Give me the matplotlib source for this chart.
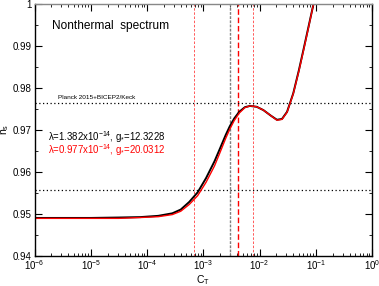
import numpy as np
import matplotlib.pyplot as plt
from matplotlib.ticker import LogLocator, MultipleLocator, NullFormatter

plt.rcParams['font.family'] = ['Liberation Sans', 'DejaVu Sans']

# log10(C_T) and n_s
logct_black = [-6.0, -5.0, -4.5, -4.12, -3.8, -3.55, -3.4, -3.25, -3.1, -2.95, -2.8,
               -2.72, -2.6, -2.53, -2.45, -2.36, -2.26, -2.17, -2.05, -1.93, -1.8,
               -1.69, -1.6, -1.51, -1.4, -1.3, -1.22, -1.13, -1.04]
ns_black = [0.9490, 0.9490, 0.9491, 0.9492, 0.9495, 0.9501, 0.9510, 0.9528, 0.9551,
            0.9585, 0.9625, 0.9650, 0.9688, 0.9708, 0.9727, 0.9743, 0.9754, 0.9757,
            0.9755, 0.9747, 0.9734, 0.9724, 0.9726, 0.9743, 0.9787, 0.9842, 0.9890,
            0.9945, 1.0]

logct_red = [-6.0, -5.0, -4.5, -4.12, -3.8, -3.55, -3.4, -3.25, -3.1, -2.95, -2.8,
             -2.72, -2.6, -2.53, -2.45, -2.36, -2.26, -2.17, -2.05, -1.93, -1.8,
             -1.69, -1.6, -1.51, -1.4, -1.3, -1.22, -1.13, -1.04]
ns_red = [0.9489, 0.9489, 0.9489, 0.9491, 0.9493, 0.9498, 0.9506, 0.9522, 0.9543,
          0.9575, 0.9614, 0.9640, 0.9680, 0.9701, 0.9722, 0.9740, 0.9753, 0.9757,
          0.9755, 0.9747, 0.9734, 0.9723, 0.9725, 0.9742, 0.9786, 0.9840, 0.9888,
          0.9943, 1.0]

planck_band = [0.9556, 0.9764]
vlines_red_thin = [6.8e-4, 7.8e-3]
vline_gray = 2.95e-3
vline_red = 4.2e-3

fig = plt.figure(figsize=(3.79, 2.86), dpi=100)
ax = fig.add_axes([34.5 / 379, 30.3 / 286, 337.5 / 379, 251.7 / 286])

for v in vlines_red_thin:
    ax.axvline(v, color='#ff4040', ls=(0, (3, 2)), lw=0.6)
ax.axvline(vline_gray, color='gray', ls=(0, (2, 1)), lw=1.0)
ax.axvline(vline_red, color='red', ls=(0, (4, 2)), lw=1.0)
for h in planck_band:
    ax.axhline(h, color='black', ls=(0, (1, 2)), lw=0.9)

ax.plot(10 ** np.array(logct_black), ns_black, color='black', lw=1.4)
ax.plot(10 ** np.array(logct_red), ns_red, color='red', lw=1.0)

ax.set_xscale('log')
ax.set_xlim(1e-6, 1)
ax.set_ylim(0.94, 1.0)
ax.xaxis.set_major_locator(LogLocator(base=10, numticks=10))
ax.xaxis.set_minor_locator(LogLocator(base=10, subs=np.arange(2, 10), numticks=10))
ax.xaxis.set_minor_formatter(NullFormatter())
ax.yaxis.set_minor_locator(MultipleLocator(0.005))
ax.set_yticks(np.arange(0.94, 1.0001, 0.01))
ax.set_yticklabels(['0.94', '0.95', '0.96', '0.97', '0.98', '0.99', '1'])
ax.tick_params(which='both', direction='in', top=True, right=True, labelsize=7, pad=2)
ax.tick_params(which='major', length=5, width=0.8)
ax.tick_params(which='minor', length=2.5, width=0.6)
for s in ax.spines.values():
    s.set_linewidth(1.0)
ax.spines['top'].set_color('#888888')

ax.set_xlabel(r'C$_\mathregular{T}$', fontsize=7.5, labelpad=1)
ax.set_ylabel(r'n$_\mathregular{s}$', fontsize=7.5)
ax.yaxis.set_label_coords(-0.07, 0.5)

ax.text(0.053, 0.914, 'Nonthermal  spectrum', transform=ax.transAxes, fontsize=8.6, va='center')
ax.text(0.07, 0.63, 'Planck 2015+BICEP2/Keck', transform=ax.transAxes, fontsize=4.6, va='center')
ax.text(0.04, 0.472, r'$\mathregular{\lambda}$=1.382x10$^\mathregular{-14}$, g$_\mathregular{*}$=12.3228',
        transform=ax.transAxes, fontsize=6.9, va='center', color='black')
ax.text(0.04, 0.418, r'$\mathregular{\lambda}$=0.977x10$^\mathregular{-14}$, g$_\mathregular{*}$=20.0312',
        transform=ax.transAxes, fontsize=6.9, va='center', color='red')

fig.savefig('out.png', dpi=100)
